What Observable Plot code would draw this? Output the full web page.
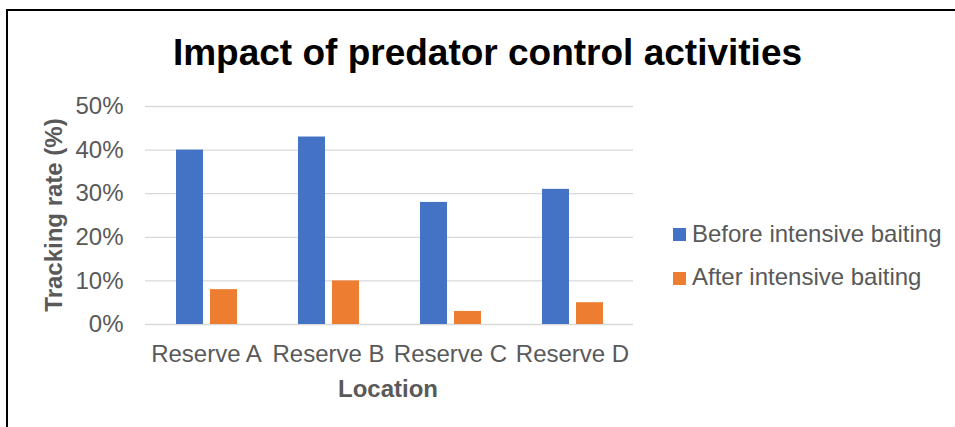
<!DOCTYPE html>
<html><head><meta charset="utf-8">
<script src="https://cdn.jsdelivr.net/npm/d3@7"></script>
<script src="https://cdn.jsdelivr.net/npm/@observablehq/plot@0.6"></script>
<style>
body{margin:0;background:#fff;font-family:"Liberation Sans",Arial,sans-serif;}
#wrap{position:relative;width:955px;height:427px;overflow:hidden;background:#fff;}
#border{position:absolute;left:6px;top:9px;width:1000px;height:500px;border-top:2px solid #000;border-left:2px solid #000;}
#title{position:absolute;left:0;top:34px;width:975px;text-align:center;font-size:37px;line-height:37px;font-weight:bold;color:#000;}
#chart{position:absolute;left:0;top:90px;}
.lg{position:absolute;font-size:24px;line-height:24px;color:#595959;white-space:nowrap;}
.sw{position:absolute;width:13px;height:13px;}
#ylab{position:absolute;left:-96px;top:203px;width:300px;text-align:center;font-size:24px;line-height:24px;font-weight:bold;color:#595959;transform:rotate(-90deg);}
#xlab{position:absolute;left:238px;top:377px;width:300px;text-align:center;font-size:24px;line-height:24px;font-weight:bold;color:#595959;}
</style></head>
<body>
<div id="wrap">
<div id="border"></div>
<div id="title"></div>
<div id="chart"></div>
<div id="ylab"></div>
<div id="xlab"></div>
<div id="legend"></div>
</div>
<script>
const titleText = "Impact of predator control activities";
const categories = ["Reserve A", "Reserve B", "Reserve C", "Reserve D"];
const seriesNames = ["Before intensive baiting", "After intensive baiting"];
const beforeValues = [40, 43, 28, 31];
const afterValues = [8, 10, 3, 5];
const yTicks = [0, 10, 20, 30, 40, 50];
const colors = ["#4472C4", "#ED7D31"];
const xTitle = "Location";
const yTitle = "Tracking rate (%)";

const data = [];
categories.forEach((c, i) => {
  data.push({category: c, series: seriesNames[0], value: beforeValues[i]});
  data.push({category: c, series: seriesNames[1], value: afterValues[i]});
});

document.getElementById("title").textContent = titleText;
document.getElementById("xlab").textContent = xTitle;
document.getElementById("ylab").textContent = yTitle;

const chart = Plot.plot({
  width: 660,
  height: 320,
  marginTop: 16,
  marginBottom: 86,
  marginLeft: 145,
  marginRight: 27,
  style: {fontFamily: '"Liberation Sans", Arial, sans-serif', fontSize: "24px", color: "#595959", background: "transparent"},
  fx: {domain: categories, padding: 0},
  x: {domain: seriesNames, paddingInner: 0.206, paddingOuter: 0.897},
  y: {domain: [0, 50]},
  color: {domain: seriesNames, range: colors},
  marks: [
    Plot.gridY(yTicks, {stroke: "#D9D9D9", strokeOpacity: 1, strokeWidth: 1.3}),
    Plot.barY(data, {fx: "category", x: "series", y: "value", fill: "series"}),
    Plot.axisY(yTicks, {tickSize: 0, tickPadding: 22, tickFormat: d => d + "%", label: null, fill: "#595959", fontSize: 24}),
    Plot.axisFx({anchor: "bottom", tickSize: 0, tickPadding: 20, label: null, fill: "#595959", fontSize: 24}),
    Plot.axisX({ticks: [], label: null, tickSize: 0})
  ]
});
document.getElementById("chart").appendChild(chart);

const legend = document.getElementById("legend");
const legendTops = [222, 265];
const swTops = [228, 272];
seriesNames.forEach((s, i) => {
  const sw = document.createElement("div");
  sw.className = "sw";
  sw.style.left = "673px";
  sw.style.top = swTops[i] + "px";
  sw.style.background = colors[i];
  legend.appendChild(sw);
  const t = document.createElement("div");
  t.className = "lg";
  t.style.left = "692px";
  t.style.top = legendTops[i] + "px";
  t.textContent = s;
  legend.appendChild(t);
});
</script>
</body></html>
